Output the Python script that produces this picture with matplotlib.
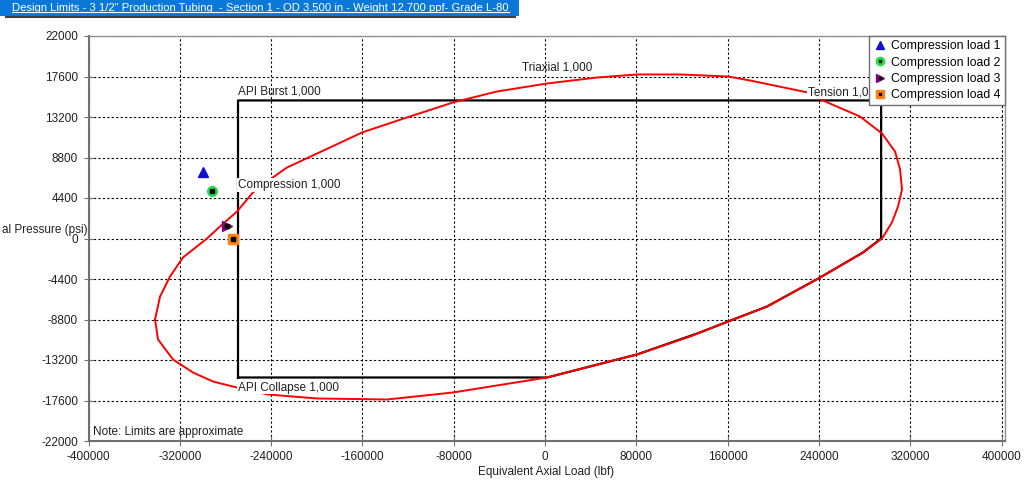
import matplotlib.pyplot as plt
from matplotlib.patches import Rectangle
from matplotlib.lines import Line2D

plt.rcParams['font.family'] = ['Liberation Sans', 'DejaVu Sans']
plt.rcParams['axes.unicode_minus'] = False

title = 'Design Limits - 3 1/2" Production Tubing  - Section 1 - OD 3,500 in - Weight 12,700 ppf- Grade L-80'

# triaxial ellipse
tri_x = [-341700, -337300, -328600, -317200, -296200, -284800, -269900, -255900, -241000,
         -226100, -188400, -160300, -120900, -80600, -42100, 1800, 45600, 80600, 118300,
         160300, 179600, 230400, 243600, 276000, 295300, 306700, 311100, 312800, 309300,
         304000, 295300, 278600, 241000, 194500, 160300, 135800, 127000, 80600, 63100,
         1800, -80600, -138400, -199800, -242700, -269900, -290900, -308400, -325900,
         -339100, -341700]
tri_y = [-8800, -6300, -4130, -2060, 0, 1300, 2930, 5000, 6410,
         7710, 9890, 11520, 13150, 14780, 15970, 16840, 17490, 17820, 17820,
         17600, 17170, 15860, 14990, 13250, 11410, 9450, 7500, 5320, 3480,
         1740, 0, -1520, -4240, -7390, -9020, -10210, -10650, -12600, -13150,
         -15100, -16730, -17490, -17380, -16950, -16190, -15540, -14560, -13150,
         -10970, -8800]

# API design box (burst / tension / collapse / compression)
box_x = [-269000, -269000, 294500, 294500, 278600, 241000, 194500, 160300, 135800,
         80600, 63100, 1800, -269000]
box_y = [-15100, 15000, 15000, 0, -1520, -4240, -7390, -9020, -10210,
         -12600, -13150, -15100, -15100]

# load cases
load_names = ['Compression load 1', 'Compression load 2', 'Compression load 3', 'Compression load 4']
load_x = [-299400, -292000, -278400, -273100]
load_y = [7200, 5210, 1340, 0]
load_marker = ['^', 'o', '>', 's']
load_color = ['#1010d0', '#20e040', '#800080', '#ff8010']

x_ticks = list(range(-400000, 400001, 80000))
y_ticks = list(range(-22000, 22001, 4400))

fig = plt.figure(figsize=(10.25, 4.88), dpi=100)
ax = fig.add_axes([88.5 / 1025, 47 / 488, 916 / 1025, 405 / 488])

ax.plot(box_x, box_y, color='black', lw=1.6, zorder=3)
ax.plot(tri_x, tri_y, color='#ff0000', lw=1.4, zorder=4)

handles = []
for i in range(4):
    h, = ax.plot(load_x[i], load_y[i], ls='none', marker=load_marker[i], ms=7,
                 mfc=load_color[i], mec=load_color[i], zorder=6)
    if i > 0:
        d, = ax.plot(load_x[i], load_y[i], ls='none', marker='s', ms=2.5,
                     mfc='black', mec='black', zorder=7)
        handles.append((h, d))
    else:
        handles.append(h)

txt = dict(fontsize=8.5, color='#202020', zorder=5)
bg = dict(facecolor='white', edgecolor='none', pad=0.5)
ax.text(-269000, 15300, 'API Burst 1,000', ha='left', va='bottom', **txt)
ax.text(-20000, 18600, 'Triaxial 1,000', ha='left', va='center', **txt)
ax.text(230400, 15900, 'Tension 1,000', ha='left', va='center', bbox=bg, **txt)
ax.text(-269000, 5800, 'Compression 1,000', ha='left', va='center', bbox=bg, **txt)
ax.text(-269000, -16200, 'API Collapse 1,000', ha='left', va='center', bbox=bg, **txt)
ax.text(-396000, -21000, 'Note: Limits are approximate', ha='left', va='center', **txt)

ax.set_xlim(-400000, 402600)
ax.set_ylim(-22000, 22000)
ax.set_xticks(x_ticks)
ax.set_yticks(y_ticks)
ax.tick_params(direction='inout', length=7, color='#707070', labelsize=8.5,
               labelcolor='#202020', pad=4)
ax.grid(True, ls=(0, (2, 2)), color='black', lw=0.8)
for s in ['left', 'bottom']:
    ax.spines[s].set_color('#707070')
    ax.spines[s].set_linewidth(1.5)
for s in ['top', 'right']:
    ax.spines[s].set_color('#909090')
    ax.spines[s].set_linewidth(1)

ax.set_xlabel('Equivalent Axial Load (lbf)', fontsize=8.5, color='#202020', labelpad=2)
fig.text(2 / 1025, 1 - 230 / 488, 'al Pressure (psi)', ha='left', va='center',
         fontsize=8.5, color='#202020')

leg = ax.legend(handles, load_names, loc='upper right', borderaxespad=0,
                fontsize=8.8, frameon=True, fancybox=False, framealpha=1,
                edgecolor='#707070', handlelength=1, handletextpad=0.4,
                labelspacing=0.35, borderpad=0.35, markerscale=0.85)
leg.set_zorder(10)

# blue title bar
fig.add_artist(Rectangle((0, 1 - 16 / 488), 519 / 1025, 16 / 488, transform=fig.transFigure,
                         facecolor='#0a78d8', edgecolor='none'))
fig.add_artist(Line2D([6 / 1025, 515 / 1025], [1 - 17 / 488, 1 - 17 / 488],
                      transform=fig.transFigure, color='#404040', lw=1.5))
t = fig.text(12 / 1025, 1 - 8 / 488, title, ha='left', va='center', fontsize=8.5, color='white')
fig.canvas.draw()
w = t.get_window_extent().width
t.set_fontsize(8.5 * 492 / w)
fig.canvas.draw()
bb = t.get_window_extent().transformed(fig.transFigure.inverted())
fig.add_artist(Line2D([bb.x0, bb.x1], [bb.y0 + 0.002, bb.y0 + 0.002], transform=fig.transFigure,
                      color='white', lw=0.8))

fig.savefig('out.png', dpi=100)
